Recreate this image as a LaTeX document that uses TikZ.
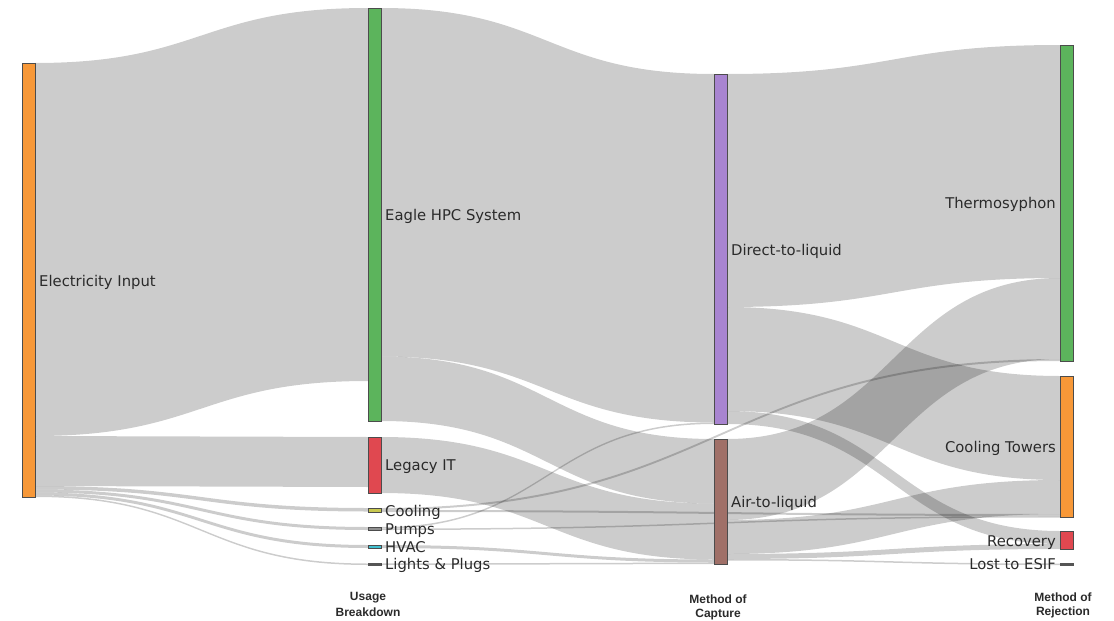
\documentclass[tikz,border=0pt]{standalone}
\usepackage{fontspec}
\setmainfont{DejaVu Sans}
\newfontfamily\axfont{Liberation Sans}
\usetikzlibrary{calc}
\definecolor{corange}{HTML}{F79838}
\definecolor{cgreen}{HTML}{5CB45C}
\definecolor{cred}{HTML}{E04850}
\definecolor{cpurple}{HTML}{A884D0}
\definecolor{cbrown}{HTML}{A07068}
\definecolor{cyellow}{HTML}{C8C850}
\definecolor{cgray}{HTML}{909090}
\definecolor{ccyan}{HTML}{40C0D0}
\definecolor{cdark}{HTML}{555555}
\definecolor{ctext}{HTML}{2A2A2A}
\tikzset{
  box/.style={draw=black!70, line width=0.6pt, inner sep=0pt, outer sep=0pt,
    minimum width=13pt, anchor=north west},
  flowfill/.style={fill=black, fill opacity=0.2},
  lab/.style={inner sep=0pt, text=ctext, font=\fontsize{14.8}{17}\selectfont},
  axl/.style={inner sep=0pt, anchor=base, text=ctext, font=\axfont\bfseries\fontsize{12}{14}\selectfont},
}
% \flow{source}{offset at source}{target}{offset at target}{width}
\newcommand\flow[5]{%
  \fill[flowfill] let \p1=(#1.north east), \p2=(#3.north west),
    \n1={0.5*(\x1+\x2)} in
    (\x1,{\y1-(#2)*1pt})
    .. controls ({\n1*1pt},{\y1-(#2)*1pt}) and ({\n1*1pt},{\y2-(#4)*1pt}) ..
    (\x2,{\y2-(#4)*1pt})
    -- (\x2,{\y2-(#4+#5)*1pt})
    .. controls ({\n1*1pt},{\y2-(#4+#5)*1pt}) and ({\n1*1pt},{\y1-(#2+#5)*1pt}) ..
    (\x1,{\y1-(#2+#5)*1pt}) -- cycle;}
\begin{document}
\begin{tikzpicture}[x=1pt,y=-1pt]
\useasboundingbox (0,0) rectangle (1114,621);
% nodes (placed first so that flows can refer to them)
\node[box, fill=corange, minimum height=434pt] (elec) at (22,63) {};
\node[box, fill=cgreen, minimum height=413pt] (eagle) at (368,8) {};
\node[box, fill=cred, minimum height=56pt] (legacy) at (368,437) {};
\node[box, fill=cyellow, minimum height=4pt] (cooling) at (368,508) {};
\node[box, fill=cgray, minimum height=3pt] (pumps) at (368,527) {};
\node[box, fill=ccyan, minimum height=3pt] (hvac) at (368,545) {};
\node[box, fill=cdark, draw=cdark, minimum height=1.5pt] (lights) at (368,563.5) {};
\node[box, fill=cpurple, minimum height=350pt] (dtl) at (714,74) {};
\node[box, fill=cbrown, minimum height=125pt] (atl) at (714,439) {};
\node[box, fill=cgreen, minimum height=316pt] (thermo) at (1060,45) {};
\node[box, fill=corange, minimum height=141pt] (ct) at (1060,376) {};
\node[box, fill=cred, minimum height=18pt] (recovery) at (1060,531) {};
\node[box, fill=cdark, draw=cdark, minimum height=1.5pt] (lost) at (1060,563.5) {};
% flows: input -> usage
\flow{elec}{0}{eagle}{0}{373}
\flow{elec}{373}{legacy}{0}{50}
\flow{elec}{423}{cooling}{0}{3.5}
\flow{elec}{426.5}{pumps}{0}{3}
\flow{elec}{429.5}{hvac}{0}{3}
\flow{elec}{432.5}{lights}{0}{1.5}
% usage -> capture
\flow{eagle}{0}{dtl}{0}{348.5}
\flow{eagle}{348.5}{atl}{0}{64.5}
\flow{legacy}{0}{atl}{64.5}{56}
\flow{pumps}{0}{dtl}{348.5}{1.5}
\flow{hvac}{0}{atl}{120.5}{3}
\flow{lights}{0}{atl}{123.5}{1.5}
% usage -> rejection
\flow{cooling}{0}{thermo}{314}{2}
\flow{cooling}{2}{ct}{138}{2}
\flow{pumps}{1.5}{ct}{140}{1.5}
% capture -> rejection
\flow{dtl}{0}{thermo}{0}{233}
\flow{dtl}{233}{ct}{0}{104}
\flow{dtl}{337}{recovery}{0}{13}
\flow{atl}{0}{thermo}{233}{81}
\flow{atl}{81}{ct}{104}{34}
\flow{atl}{115}{recovery}{13}{5}
\flow{atl}{120}{lost}{0}{1.5}
% redraw nodes on top of flows
\foreach \n/\c in {elec/corange, eagle/cgreen, legacy/cred, cooling/cyellow,
  pumps/cgray, hvac/ccyan, dtl/cpurple, atl/cbrown, thermo/cgreen, ct/corange,
  recovery/cred}{
  \draw[black!70, line width=0.6pt, fill=\c] (\n.north west) rectangle (\n.south east);
}
\fill[cdark] (lights.north west) rectangle (lights.south east);
\fill[cdark] (lost.north west) rectangle (lost.south east);
% labels
\node[lab, anchor=base west] (lelec) at (39,286) {Electricity Input};
\node[lab, anchor=base west] (leagle) at (385,220) {Eagle HPC System};
\node[lab, anchor=base west] (llegacy) at (385,470) {Legacy IT};
\node[lab, anchor=base west] (lcooling) at (385,516) {Cooling};
\node[lab, anchor=base west] (lpumps) at (385,534) {Pumps};
\node[lab, anchor=base west] (lhvac) at (385,552) {HVAC};
\node[lab, anchor=base west] (llights) at (385,569) {Lights \& Plugs};
\node[lab, anchor=base west] (ldtl) at (731,255) {Direct-to-liquid};
\node[lab, anchor=base west] (latl) at (731,507) {Air-to-liquid};
\node[lab, anchor=base east] (lthermo) at (1056,208) {Thermosyphon};
\node[lab, anchor=base east] (lct) at (1056,452) {Cooling Towers};
\node[lab, anchor=base east] (lrec) at (1056,546) {Recovery};
\node[lab, anchor=base east] (llost) at (1056,569) {Lost to ESIF};
% column titles
\node[axl] (ax1a) at (368,600) {Usage};
\node[axl] (ax1b) at (368,616) {Breakdown};
\node[axl] (ax2a) at (718,603) {Method of};
\node[axl] (ax2b) at (718,617) {Capture};
\node[axl] (ax3a) at (1063,601) {Method of};
\node[axl] (ax3b) at (1063,615) {Rejection};
\end{tikzpicture}
\end{document}
